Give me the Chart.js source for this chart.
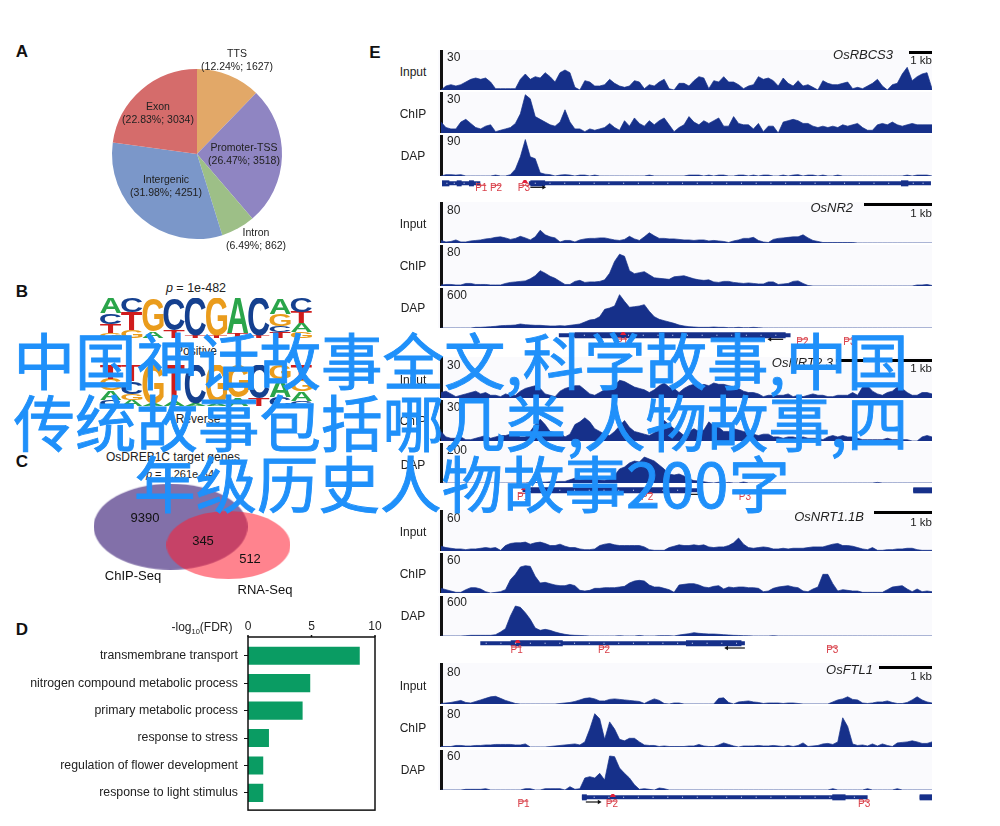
<!DOCTYPE html>
<html>
<head>
<meta charset="utf-8">
<style>
  html, body { margin: 0; background: #fff; }
  #page { position: relative; width: 1000px; height: 826px; overflow: hidden; font-family: "Liberation Sans", Arial, sans-serif; color: #222; }
  canvas { position: absolute; }
  .t { position: absolute; white-space: nowrap; transform: translate(-50%, -50%); font-size: 12px; line-height: 1; }
  .head { font-family: "Noto Sans CJK SC", sans-serif; color: #1f90fa; font-size: 61.5px; -webkit-text-stroke: 0.9px #1f90fa; }
</style>
<script src="https://cdn.jsdelivr.net/npm/chart.js@4/dist/chart.umd.min.js"></script>
</head>
<body>
<div id="page"></div>
<script>
// Panel A
var pieNames = ["TTS", "Promoter-TSS", "Intron", "Intergenic", "Exon"];
var pieShares = [12.24, 26.47, 6.49, 31.98, 22.83];
var pieCounts = [1627, 3518, 862, 4251, 3034];

// Panel B, stacks run bottom to top
var logoForwardLetters = [["G","T","C","A"],["G","T","C"],["A","G"],["T","C"],["T","C"],["T","G"],["T","A"],["T","C"],["T","C","G","A"],["G","A","T","C"]];
var logoForwardBits = [[.25,.45,.55,.75],[.42,.88,.7],[.35,1.65],[.4,1.6],[.1,1.9],[.1,1.9],[.25,1.75],[.1,1.9],[.3,.3,.6,.8],[.3,.45,.55,.7]];
var logoReverseLetters = [["C","A","G","T"],["A","G","C","T"],["A","G"],["A","T"],["A","C"],["A","G"],["A","G"],["T","C"],["C","A","G"],["C","A","G","T"]];
var logoReverseBits = [[.3,.45,.55,.7],[.3,.3,.6,.8],[.1,1.9],[.25,1.75],[.1,1.9],[.1,1.9],[.4,1.6],[.35,1.65],[.42,.88,.7],[.25,.45,.55,.75]];

// Panel C
var vennSets = ["ChIP-Seq", "RNA-Seq"];
var vennCounts = [9390, 345, 512];

// Panel D
var goTerms = ["transmembrane transport", "nitrogen compound metabolic process", "primary metabolic process", "response to stress", "regulation of flower development", "response to light stimulus"];
var goValues = [8.8, 4.9, 4.3, 1.65, 1.2, 1.2];
var goTicks = [0, 5, 10];

// Panel E, coverage per bin (100 bins across each locus)
var rbcsInput = [0,3,4,3,4,6,8,9,8,9,6,1,1,1,1,1,8,12,8,10,9,13,10,6,13,15,13,2,0,7,6,3,3,4,8,5,3,2,3,7,6,1,4,3,6,8,1,0,5,5,3,7,10,9,1,7,6,10,6,6,4,1,3,4,10,8,9,7,3,9,5,3,7,3,4,2,0,7,5,4,4,5,6,1,2,1,3,5,8,3,0,4,5,12,17,7,10,12,13,1];
var rbcsChip = [8,4,3,3,8,10,7,4,3,5,6,1,2,3,4,7,14,28,25,12,10,8,6,5,8,17,8,3,3,1,3,2,3,4,7,4,2,9,5,11,7,5,9,6,9,11,6,1,4,6,12,8,6,9,7,9,11,5,5,12,7,6,6,3,7,1,5,5,0,8,9,10,9,7,7,5,4,5,4,5,4,6,5,6,7,4,2,2,6,7,6,8,6,5,6,7,6,6,6,6];
var rbcsDap = [0,3,3,2,3,0,0,0,0,0,0,2,0,0,3,15,42,80,42,38,7,4,3,0,2,3,2,0,2,2,0,2,0,0,0,0,0,0,0,0,0,0,2,0,0,0,0,0,0,0,2,2,2,0,2,0,2,2,0,0,2,2,0,2,0,2,2,0,0,2,0,2,3,0,2,2,0,2,0,0,2,0,0,0,0,0,0,0,0,0,0,0,0,0,2,0,2,2,2,0];
var nr2Input = [5,2,3,6,2,2,4,5,6,8,9,11,12,10,7,9,13,10,6,12,25,16,12,10,2,5,5,2,6,8,9,9,10,10,8,6,5,7,13,8,5,12,20,14,9,9,8,8,7,6,6,5,6,6,4,5,4,3,1,4,6,9,9,11,5,2,1,7,9,10,11,12,12,16,10,5,3,1,1,1,1,1,1,1,0,0,0,0,0,0,0,0,0,0,0,0,0,0,0,0];
var nr2Chip = [2,3,3,2,2,5,5,3,3,3,2,2,2,5,7,8,9,10,14,20,30,25,19,15,9,3,3,9,11,7,8,8,9,12,25,48,62,58,30,24,26,28,22,16,15,14,13,18,19,20,17,14,12,11,12,8,7,9,9,7,6,5,6,5,4,4,8,8,3,4,5,9,10,5,1,0,0,0,0,0,0,0,0,0,0,0,0,0,0,0,0,0,0,0,0,0,2,2,3,1];
var nr2Dap = [0,0,0,0,0,0,0,10,10,15,20,25,35,38,40,45,60,50,45,40,40,35,30,30,35,30,40,50,60,90,120,130,170,280,300,330,500,400,310,320,330,350,250,170,130,110,90,70,45,30,20,15,10,10,10,15,10,10,5,5,10,5,5,10,5,0,0,0,0,0,0,0,0,0,0,0,0,0,0,0,0,0,0,0,0,0,0,0,0,0,0,0,0,0,0,0,0,0,0,0];
var nrt23Input = [4,5,3,1,2,3,4,5,3,4,2,2,1,3,2,2,5,7,8,9,7,3,2,1,5,7,8,9,9,6,3,2,4,6,6,9,13,12,10,8,7,6,4,6,9,11,8,7,4,7,9,10,8,10,9,11,10,10,9,8,7,5,4,4,3,1,2,2,2,2,3,1,2,1,2,3,2,2,1,1,2,2,2,4,2,8,9,5,3,2,4,5,8,7,4,2,2,4,4,3];
var nrt23Chip = [7,3,2,2,3,1,1,2,3,4,2,3,4,4,5,6,3,3,7,12,16,12,7,6,6,3,5,12,14,17,14,9,7,5,4,7,11,15,10,7,6,5,4,6,10,15,12,9,7,4,7,9,7,8,14,11,10,7,7,9,8,7,6,5,4,5,5,3,3,2,3,3,2,3,2,2,2,1,3,4,3,4,3,3,2,1,1,1,1,1,2,1,1,1,1,0,0,3,4,3];
var nrt23Dap = [0,0,0,0,0,0,0,0,0,0,0,0,0,0,0,0,0,0,2,2,4,4,6,6,8,8,16,24,16,20,25,18,15,14,20,38,70,80,100,110,105,130,120,110,90,70,45,40,45,35,20,12,10,6,2,0,4,0,3,0,0,5,0,0,0,0,0,0,0,0,0,0,0,0,0,0,0,0,0,0,0,0,0,0,0,0,0,0,3,0,0,0,0,0,0,0,0,0,0,0];
var nrt11Input = [7,5,4,3,3,2,3,3,4,5,4,5,1,8,11,12,12,13,10,12,13,11,8,8,10,7,5,5,3,2,2,3,8,10,11,9,8,8,8,8,8,6,2,1,1,1,5,7,9,8,8,9,8,9,6,5,6,6,8,12,19,10,5,4,5,6,5,3,3,4,3,4,4,4,5,6,6,6,8,10,11,8,8,7,5,3,2,5,1,1,2,2,3,3,4,4,2,1,1,1];
var nrt11Chip = [7,5,3,1,1,5,8,8,6,2,0,1,2,5,20,28,39,41,40,25,15,16,14,12,11,11,13,11,4,3,4,7,7,8,8,8,9,10,15,18,19,18,12,9,9,7,5,1,12,13,14,14,12,9,8,10,11,6,9,8,9,9,8,8,7,2,3,7,9,10,11,9,8,3,2,6,9,28,28,14,3,5,4,3,3,1,1,1,1,1,5,9,10,11,6,2,6,2,3,2];
var nrt11Dap = [0,0,0,0,0,5,10,10,10,10,10,20,60,110,300,450,430,350,250,120,85,100,85,60,40,25,15,10,8,5,0,0,0,0,0,0,5,0,0,0,8,0,0,0,5,5,5,0,15,25,35,50,40,35,30,30,25,20,15,10,8,5,3,0,0,0,0,5,0,0,0,0,0,0,0,0,0,0,0,0,0,0,0,0,0,0,0,0,0,0,0,0,0,0,0,0,0,0,0,0];
var ftl1Input = [1,2,3,5,7,3,2,5,8,11,14,15,11,7,4,1,0,0,0,0,0,0,0,0,1,2,3,5,8,11,12,10,6,6,9,10,9,8,7,6,5,1,6,10,7,1,0,2,2,0,0,0,0,0,0,0,11,12,3,0,4,5,6,4,3,1,2,2,2,1,2,2,1,0,0,0,0,0,0,4,8,10,14,9,8,2,1,2,4,4,6,3,1,1,3,8,14,8,4,2];
var ftl1Chip = [1,1,1,3,3,2,2,3,3,4,4,5,5,5,5,4,4,6,0,0,0,0,1,2,3,4,5,6,4,10,35,65,55,15,49,35,15,12,17,17,10,4,3,3,1,2,1,1,1,1,2,2,5,2,1,1,4,8,5,2,0,2,2,2,3,2,2,3,2,1,3,1,3,8,1,2,3,6,7,5,10,57,40,6,3,4,2,6,2,6,3,1,8,9,10,12,10,7,7,10];
var ftl1Dap = [0,0,0,0,0,1,1,1,1,2,0,0,0,0,0,0,0,2,2,0,0,2,2,2,2,0,5,1,2,18,20,18,25,15,51,50,33,25,18,8,1,2,1,0,3,2,0,0,0,0,0,0,0,0,0,0,0,0,0,0,0,0,0,0,0,0,0,0,0,0,0,0,0,0,0,0,0,0,0,2,0,0,0,0,0,0,2,0,0,0,0,0,2,0,0,0,0,0,0,0];

var rbcsMax = [30, 30, 90], nr2Max = [80, 80, 600], nrt23Max = [30, 30, 200], nrt11Max = [60, 60, 600], ftl1Max = [80, 80, 60];
var trackNames = ["Input", "ChIP", "DAP"];

// gene models, in bins
var rbcsGene = [[0,7.8],[17.7,99.6]], rbcsExons = [[0,1.5],[3,4],[5.5,6.5],[18,21],[93.5,95]];
var rbcsTicks = [1,2.5,4.5,7,19,22,25,28,31,34,37,40,43,46,49,52,55,58,61,64,67,70,73,76,79,82,85,88,91,96,98];
var nr2Gene = [[23.8,71]], nr2Exons = [[27,70]];
var nr2Ticks = [26,29,32,35,38,41,44,47,50,53,56,59,62,65,68];
var nrt23Gene = [[16.4,52],[96,100]], nrt23Exons = [[18,50],[96,100]];
var nrt23Ticks = [18,21,24,27,30,33,36,39,42,45,48];
var nrt11Gene = [[7.8,61.7]], nrt11Exons = [[14,24.6],[49.7,61]];
var nrt11Ticks = [9,12,15,18,21,24,27,30,33,36,39,42,45,48,51,54,57,60];
var ftl1Gene = [[28.5,86.7],[97.3,100]], ftl1Exons = [[79.5,82.2],[97.3,100],[28.5,29.5]];
var ftl1Ticks = [31,34,37,40,43,46,49,52,55,58,61,64,67,70,73,76,79,84];
var rbcsPrimers = [8, 11, 16.7], nr2Primers = [36.7, 73.4, 83], nrt23Primers = [16.5, 41.8, 61.7], nrt11Primers = [15.2, 33, 79.5], ftl1Primers = [16.6, 34.6, 86];

var NAVY = "#16308a";
var page = document.getElementById("page");

function addText(text, x, y, extra) {
  var d = document.createElement("div");
  d.className = "t";
  d.innerHTML = text;
  d.style.left = x + "px";
  d.style.top = y + "px";
  if (extra) d.style.cssText += extra;
  page.appendChild(d);
  return d;
}

function addCanvas(x, y, w, h, bg) {
  var c = document.createElement("canvas");
  c.width = w;
  c.height = h;
  c.style.left = x + "px";
  c.style.top = y + "px";
  c.style.width = w + "px";
  c.style.height = h + "px";
  if (bg) c.style.background = bg;
  page.appendChild(c);
  return c;
}

Chart.defaults.animation = false;
Chart.defaults.responsive = false;
Chart.defaults.font.family = "'Liberation Sans', Arial, sans-serif";
Chart.defaults.plugins.legend.display = false;
Chart.defaults.plugins.tooltip.enabled = false;

// panel letters
[["A", 22, 51], ["B", 22, 291], ["C", 22, 461], ["D", 22, 629], ["E", 375, 52]].forEach(function (p) {
  addText(p[0], p[1], p[2], "font-size:17px;font-weight:bold;color:#111;");
});

// A: pie
new Chart(addCanvas(97, 54, 200, 200), {
  type: "pie",
  data: {
    labels: pieNames,
    datasets: [{
      data: pieCounts,
      backgroundColor: ["#e2a868", "#8f85c2", "#9dbf87", "#7b97c9", "#d56c6b"],
      borderWidth: 0,
    }],
  },
  options: { layout: { padding: 15 } },
});
var pieSpots = [[237, 53], [244, 147], [256, 232], [166, 179], [158, 106]];
pieNames.forEach(function (name, i) {
  addText(name, pieSpots[i][0], pieSpots[i][1], "font-size:10.5px;");
  addText("(" + pieShares[i] + "%; " + pieCounts[i] + ")", pieSpots[i][0], pieSpots[i][1] + 12.5, "font-size:10.5px;");
});

// B: sequence logos, stacked bars with the letter stretched over each bar
var LOGO_COLORS = { A: "#2aa54a", C: "#15408f", G: "#ea9c1c", T: "#cf1c1c" };
function logoChart(canvas, letters, bits) {
  var layers = [0, 1, 2, 3].map(function (j) {
    return {
      data: bits.map(function (b) { return b[j] || 0; }),
      backgroundColor: "transparent",
      barPercentage: 1,
      categoryPercentage: 1,
    };
  });
  new Chart(canvas, {
    type: "bar",
    data: { labels: letters.map(function (l, i) { return i + 1; }), datasets: layers },
    options: {
      scales: {
        x: { stacked: true, display: false },
        y: { stacked: true, display: false, min: 0, max: 2 },
      },
    },
    plugins: [{
      id: "letters",
      afterDatasetsDraw: function (chart) {
        var ctx = chart.ctx;
        chart.data.datasets.forEach(function (ds, j) {
          chart.getDatasetMeta(j).data.forEach(function (bar, i) {
            var ch = letters[i][j];
            if (!ch) return;
            var top = bar.y, h = bar.base - bar.y;
            ctx.save();
            ctx.font = "bold 100px 'Liberation Sans'";
            var m = ctx.measureText(ch);
            var tw = m.actualBoundingBoxLeft + m.actualBoundingBoxRight;
            var th = m.actualBoundingBoxAscent + m.actualBoundingBoxDescent;
            ctx.translate(bar.x - bar.width / 2, top);
            ctx.scale(bar.width / tw, h / th);
            ctx.fillStyle = LOGO_COLORS[ch];
            ctx.textBaseline = "alphabetic";
            ctx.fillText(ch, m.actualBoundingBoxLeft, m.actualBoundingBoxAscent);
            ctx.restore();
          });
        });
      },
    }],
  });
}
logoChart(addCanvas(100, 298, 212, 40), logoForwardLetters, logoForwardBits);
logoChart(addCanvas(100, 365, 212, 41), logoReverseLetters, logoReverseBits);
addText("<i>p</i> = 1e-482", 196, 288, "font-size:12.5px;");
addText("Positive", 196, 351, "font-size:12px;");
addText("Reverse", 198, 419, "font-size:12px;");
addText("OsDREB1C target genes", 173, 457, "font-size:12px;");
addText("<i>p</i> = 1.261e-34", 180, 474, "font-size:11px;");

// C: venn, two translucent ellipses as point images
function ellipseImage(rx, ry, color) {
  var c = document.createElement("canvas");
  c.width = rx * 2;
  c.height = ry * 2;
  var g = c.getContext("2d");
  g.fillStyle = color;
  g.beginPath();
  g.ellipse(rx, ry, rx, ry, 0, 0, Math.PI * 2);
  g.fill();
  return c;
}
new Chart(addCanvas(80, 470, 230, 130), {
  type: "scatter",
  data: {
    // last dataset is painted first, so the red set goes over the purple one
    datasets: [
      { data: [{ x: 152, y: 77 }], pointStyle: ellipseImage(62, 34, "rgba(255,30,50,0.55)"), pointRadius: 10, clip: false },
      { data: [{ x: 88, y: 55 }], pointStyle: ellipseImage(77, 43, "rgb(130,112,169)"), pointRadius: 10, clip: false },
    ],
  },
  options: {
    scales: {
      x: { display: false, min: 0, max: 230 },
      y: { display: false, min: 0, max: 130, reverse: true },
    },
  },
});
addText(vennCounts[0], 145, 517, "font-size:13px;color:#111;");
addText(vennCounts[1], 203, 540, "font-size:13px;color:#111;");
addText(vennCounts[2], 250, 558, "font-size:13px;color:#111;");
addText(vennSets[0], 133, 575, "font-size:13px;color:#111;");
addText(vennSets[1], 265, 589, "font-size:13px;color:#111;");

// D: GO terms, the frame sits a little outside the category bands
new Chart(addCanvas(0, 610, 385, 210), {
  type: "bar",
  data: {
    labels: goTerms,
    datasets: [{ data: goValues, backgroundColor: "#0a9c63", barPercentage: 0.66, categoryPercentage: 1 }],
  },
  options: {
    indexAxis: "y",
    layout: { padding: { right: 10, bottom: 12.5 } },
    scales: {
      x: {
        position: "top",
        min: goTicks[0],
        max: goTicks[goTicks.length - 1],
        afterFit: function (s) { s.height = 32; },
        afterBuildTicks: function (s) { s.ticks = goTicks.map(function (v) { return { value: v }; }); },
        grid: { display: false },
        border: { display: false },
        ticks: { color: "#222", font: { size: 12 }, maxRotation: 0, padding: 0 },
      },
      y: {
        afterFit: function (s) { s.width = 248; },
        grid: { drawOnChartArea: false, color: "#111", tickLength: 4, offset: false },
        border: { display: false },
        ticks: { color: "#222", font: { size: 12.3 }, padding: 6 },
      },
    },
  },
  plugins: [{
    id: "box",
    afterDraw: function (chart) {
      var a = chart.chartArea, ctx = chart.ctx;
      var top = a.top - 5, bottom = a.bottom + 3.5;
      ctx.strokeStyle = "#111";
      ctx.lineWidth = 1.5;
      ctx.strokeRect(a.left, top, a.right - a.left, bottom - top);
      goTicks.forEach(function (v) {
        var x = chart.scales.x.getPixelForValue(v);
        ctx.beginPath();
        ctx.moveTo(x, top);
        ctx.lineTo(x, top - 2);
        ctx.stroke();
      });
    },
  }],
});
addText("-log<sub style='font-size:7.5px'>10</sub>(FDR)", 202, 628, "font-size:12px;");

// E: browser tracks
function coverageChart(canvas, values, max) {
  new Chart(canvas, {
    type: "line",
    data: {
      datasets: [{
        data: values.map(function (v, i) { return { x: i, y: v }; }),
        borderColor: NAVY,
        borderWidth: 0.7,
        backgroundColor: NAVY,
        fill: "origin",
        pointRadius: 0,
      }],
    },
    options: {
      scales: {
        x: { type: "linear", display: false, min: 0, max: 99 },
        y: {
          min: 0,
          max: max,
          afterFit: function (s) { s.width = 3; },
          ticks: { display: false },
          grid: { display: false },
          border: { color: "#111", width: 3 },
        },
      },
    },
    plugins: [{
      id: "axisCap",
      afterDraw: function (chart) {
        chart.ctx.fillStyle = "#111";
        chart.ctx.fillRect(chart.chartArea.left, chart.chartArea.top, 2, 1.5);
      },
    }],
  });
}

function line(x0, x1, y, color, width) {
  return {
    data: [{ x: x0, y: y }, { x: x1, y: y }],
    showLine: true,
    borderColor: color,
    borderWidth: width,
    pointRadius: 0,
    clip: false,
  };
}

function geneChart(canvas, g) {
  var RED = "#d9404a";
  var sets = [];
  // white ticks go first so they stay on top of the bands
  sets.push({
    data: g.ticks.map(function (t) { return { x: t, y: 5 }; }),
    pointStyle: "rect", pointRadius: 0.7, backgroundColor: "#dfe6ff", borderWidth: 0,
  });
  g.primers.forEach(function (p) { sets.push(line(p - 1, p + 1, g.rowPrimer, RED, 1)); });
  sets.push({
    data: [{ x: g.primers[g.summit] + 0.2, y: 2 }],
    pointStyle: "triangle", pointRadius: 3.5, backgroundColor: "#e0203a", borderWidth: 0,
  });
  sets.push(line(g.arrow[0], g.arrow[1], g.rowArrow, "#111", 1.2));
  sets.push({
    data: [{ x: g.arrow[1], y: g.rowArrow }],
    pointStyle: "triangle", pointRadius: 2.5, rotation: g.arrow[1] > g.arrow[0] ? 90 : -90,
    backgroundColor: "#111", borderWidth: 0,
  });
  g.exons.forEach(function (s) { sets.push(line(s[0], s[1], 5, NAVY, 6)); });
  g.spans.forEach(function (s) { sets.push(line(s[0], s[1], 5, NAVY, 4)); });
  new Chart(canvas, {
    type: "scatter",
    data: { datasets: sets },
    options: {
      layout: { padding: { left: 3 } },
      scales: {
        x: { display: false, min: 0, max: 99 },
        y: { display: false, min: 0, max: 24, reverse: true },
      },
    },
    plugins: [{
      id: "primerNames",
      afterDatasetsDraw: function (chart) {
        var ctx = chart.ctx;
        ctx.font = "10px 'Liberation Sans'";
        ctx.fillStyle = RED;
        ctx.textAlign = "center";
        ctx.textBaseline = "middle";
        g.primers.forEach(function (p, i) {
          ctx.fillText("P" + (i + 1), chart.scales.x.getPixelForValue(p), chart.scales.y.getPixelForValue(g.rowLabel));
        });
      },
    }],
  });
}

var loci = [
  { name: "OsRBCS3", series: [rbcsInput, rbcsChip, rbcsDap], max: rbcsMax, tops: [50, 92, 135], heights: [40, 41, 41],
    nameRight: 893, nameY: 54, barLeft: 909, barY: 52, kbY: 61, side: [72, 114, 156], tickY: [57, 99, 141],
    gene: { spans: rbcsGene, exons: rbcsExons, ticks: rbcsTicks, primers: rbcsPrimers, summit: 2, arrow: [18, 20.7], rowArrow: 11, rowPrimer: 8, rowLabel: 13 } },
  { name: "OsNR2", series: [nr2Input, nr2Chip, nr2Dap], max: nr2Max, tops: [202, 245, 288], heights: [41, 41, 40],
    nameRight: 853, nameY: 207, barLeft: 864, barY: 204, kbY: 214, side: [224, 266, 308], tickY: [210, 252, 295],
    gene: { spans: nr2Gene, exons: nr2Exons, ticks: nr2Ticks, primers: nr2Primers, summit: 0, arrow: [69.5, 66.8], rowArrow: 11, rowPrimer: 10.7, rowLabel: 16 } },
  { name: "OsNRT2.3", series: [nrt23Input, nrt23Chip, nrt23Dap], max: nrt23Max, tops: [357, 400, 443], heights: [41, 41, 40],
    nameRight: 833, nameY: 362, barLeft: 836, barY: 360, kbY: 369, side: [380, 421, 465], tickY: [365, 407, 450],
    gene: { spans: nrt23Gene, exons: nrt23Exons, ticks: nrt23Ticks, primers: nrt23Primers, summit: 0, arrow: [53, 50], rowArrow: 11, rowPrimer: 9.6, rowLabel: 16 } },
  { name: "OsNRT1.1B", series: [nrt11Input, nrt11Chip, nrt11Dap], max: nrt11Max, tops: [510, 553, 596], heights: [41, 40, 40],
    nameRight: 864, nameY: 516, barLeft: 874, barY: 512, kbY: 523, side: [532, 574, 616], tickY: [518, 560, 602],
    gene: { spans: nrt11Gene, exons: nrt11Exons, ticks: nrt11Ticks, primers: nrt11Primers, summit: 0, arrow: [61.7, 58], rowArrow: 12, rowPrimer: 10.7, rowLabel: 16 } },
  { name: "OsFTL1", series: [ftl1Input, ftl1Chip, ftl1Dap], max: ftl1Max, tops: [663, 706, 750], heights: [41, 41, 40],
    nameRight: 873, nameY: 669, barLeft: 879, barY: 667, kbY: 677, side: [686, 728, 770], tickY: [672, 714, 756],
    gene: { spans: ftl1Gene, exons: ftl1Exons, ticks: ftl1Ticks, primers: ftl1Primers, summit: 1, arrow: [29.3, 32], rowArrow: 12, rowPrimer: 10.7, rowLabel: 16 } },
];

loci.forEach(function (locus) {
  locus.series.forEach(function (values, i) {
    coverageChart(addCanvas(438, locus.tops[i], 494, locus.heights[i], "#fafafd"), values, locus.max[i]);
    addText(trackNames[i], 413, locus.side[i], "font-size:12px;");
    addText(locus.max[i], 447, locus.tickY[i], "font-size:12px;transform:translate(0,-50%);");
  });
  geneChart(addCanvas(438, locus.tops[2] + locus.heights[2], 494, 24), locus.gene);
  addText(locus.name, locus.nameRight, locus.nameY, "font-size:13px;font-style:italic;transform:translate(-100%,-50%);");
  addText("1 kb", 932, locus.kbY, "font-size:11.5px;transform:translate(-100%,-50%);");
  var bar = document.createElement("div");
  bar.style.cssText = "position:absolute;background:#000;height:3px;left:" + locus.barLeft + "px;top:" + (locus.barY - 1.5) + "px;width:" + (932 - locus.barLeft) + "px;";
  page.appendChild(bar);
});

// headline laid over the figure
[["中国神话故事全文,科学故事,中国", 461, 359], ["传统故事包括哪几类,人物故事,四", 461, 421], ["年级历史人物故事200字", 462, 482]].forEach(function (h) {
  addText(h[0], h[1], h[2]).classList.add("head");
});
</script>
</body>
</html>
